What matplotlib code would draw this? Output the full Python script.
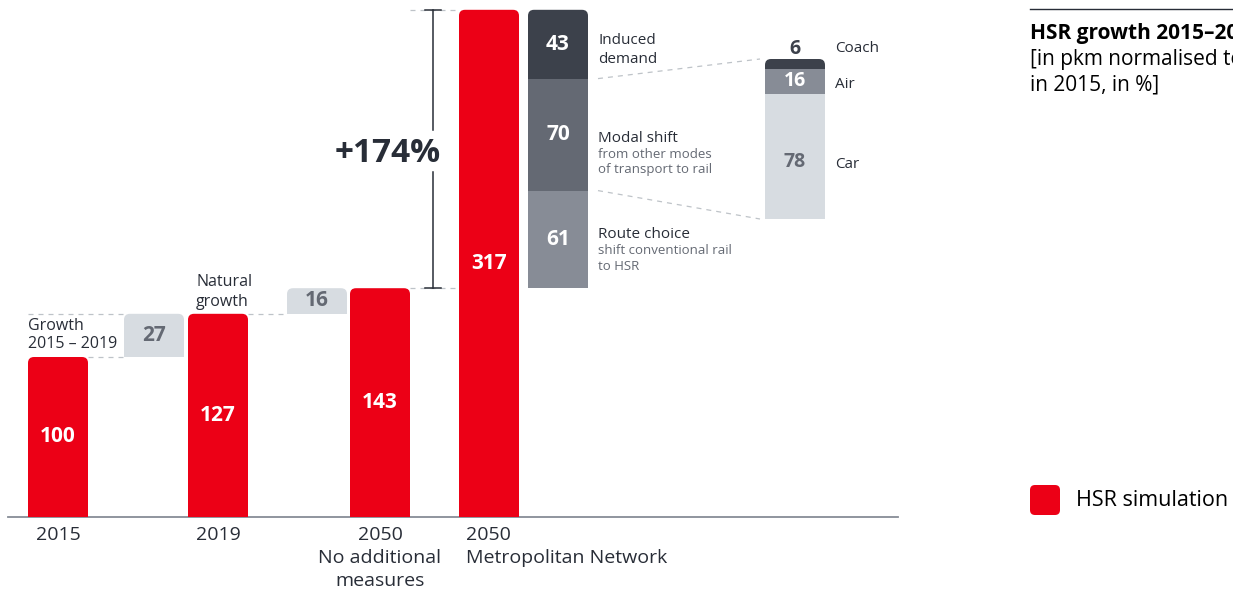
import matplotlib
matplotlib.use("Agg")
import matplotlib.pyplot as plt
from matplotlib.patches import FancyBboxPatch, Rectangle

# data
categories = ["2015", "2019", "2050\nNo additional\nmeasures", "2050\nMetropolitan Network"]
hsr_values = [100, 127, 143, 317]
growth_steps = [27, 16]
growth_labels = ["Growth\n2015 – 2019", "Natural\ngrowth"]
component_values = [61, 70, 43]
component_titles = ["Route choice", "Modal shift", "Induced\ndemand"]
component_subs = ["shift conventional rail\nto HSR", "from other modes\nof transport to rail", ""]
modes = ["Car", "Air", "Coach"]
mode_shares = [78, 16, 6]

RED = "#EC0016"
DARK = "#3C414B"
MID = "#646973"
GREY = "#878C96"
LIGHT = "#D7DCE1"
TXT = "#282D37"

plt.rcParams['font.family'] = ['Open Sans', 'DejaVu Sans']

W, H = 1233, 591
SCALE = 1.6          # pixels per unit
BASE = 517           # baseline pixel row


def py(p):
    # pixel row -> data value
    return (BASE - p) / SCALE


fig = plt.figure(figsize=(W / 100, H / 100), dpi=100)
ax = fig.add_axes([0, 0, 1, 1])
ax.set_xlim(0, W)
ax.set_ylim(py(H), py(0))
ax.axis('off')


def rbar(x0, bottom, height, width, color, rounded=True):
    if rounded:
        p = FancyBboxPatch((x0, bottom - 10), width, height + 10,
                           boxstyle="round,pad=0,rounding_size=6",
                           mutation_aspect=1 / SCALE, fc=color, ec='none', zorder=2)
        ax.add_patch(p)
        clip = Rectangle((x0 - 1, bottom), width + 2, height + 5, transform=ax.transData)
        p.set_clip_path(clip)
    else:
        ax.add_patch(Rectangle((x0, bottom), width, height, fc=color, ec='none', zorder=2))


bw = 60
bar_x = [28, 188, 350, 459]
label_x = [58, 218, 380, 466]
label_ha = ['center', 'center', 'center', 'left']

# red bars
for x0, v in zip(bar_x, hsr_values):
    rbar(x0, 0, v, bw, RED)
    ax.text(x0 + bw / 2, v / 2, str(v), color='white', fontsize=15, fontweight='bold',
            ha='center', va='center', zorder=3)

for lx, ha, lab in zip(label_x, label_ha, categories):
    ax.text(lx, py(526), lab, fontsize=14, ha=ha, va='top', color=TXT, linespacing=1.35)

# baseline
ax.plot([8, 898], [0, 0], color=GREY, lw=1.3, zorder=1)

# growth steps
dash = dict(color='#BEC3C8', lw=0.9, ls=(0, (4, 4)), zorder=1)
step_x = [124, 287]
for i, (sx, g) in enumerate(zip(step_x, growth_steps)):
    b = hsr_values[i]
    rbar(sx, b, g, bw, LIGHT)
    ax.text(sx + bw / 2, b + g / 2, str(g), color=MID, fontsize=15, fontweight='bold',
            ha='center', va='center', zorder=3)
ax.plot([88, 124], [hsr_values[0]] * 2, **dash)
ax.plot([28, 124], [hsr_values[1]] * 2, **dash)
ax.plot([248, 287], [hsr_values[1]] * 2, **dash)
ax.text(28, py(335), growth_labels[0], fontsize=11.5, color=TXT, ha='left', va='center',
        linespacing=1.25)
ax.text(196, py(292), growth_labels[1], fontsize=11.5, color=TXT, ha='left', va='center',
        linespacing=1.25)

# decomposition of the metropolitan network growth
seg_colors = [GREY, MID, DARK]
sx = 528
b = hsr_values[2]
seg_bounds = []
for i, (v, c) in enumerate(zip(component_values, seg_colors)):
    rbar(sx, b, v, bw, c, rounded=(i == len(component_values) - 1))
    ax.text(sx + bw / 2, b + v / 2, str(v), color='white', fontsize=15, fontweight='bold',
            ha='center', va='center', zorder=3)
    seg_bounds.append((b, b + v))
    b += v

title_rows = [234, 138, 50]
for (lo, hi), t, s, r in zip(seg_bounds, component_titles, component_subs, title_rows):
    ax.text(598, py(r), t, fontsize=11, color=TXT, ha='left', va='center', linespacing=1.3)
    if s:
        ax.text(598, py(r + 10), s, fontsize=9.5, color=MID, ha='left', va='top',
                linespacing=1.25)

# +174% bracket
total = hsr_values[3] - hsr_values[2]
lo, hi = hsr_values[2], hsr_values[3]
ax.plot([410, 459], [hi, hi], **dash)
ax.plot([410, 459], [lo, lo], **dash)
ax.plot([433, 433], [hi, py(130)], color=TXT, lw=1.1)
ax.plot([433, 433], [py(172), lo], color=TXT, lw=1.1)
ax.plot([425, 441], [hi, hi], color=TXT, lw=1.1)
ax.plot([425, 441], [lo, lo], color=TXT, lw=1.1)
ax.text(388, py(154), f"+{total}%", fontsize=24, fontweight='bold', color=TXT,
        ha='center', va='center')

# modal split of the shift
mx = 765
mb = py(219)
mode_colors = [LIGHT, GREY, DARK]
mode_txt = [MID, 'white', DARK]
label_rows = [164, 85, 49]
b = mb
for i, (m, v, c, tc, r) in enumerate(zip(modes, mode_shares, mode_colors, mode_txt, label_rows)):
    rbar(mx, b, v, bw, c, rounded=(i == len(modes) - 1))
    if i == 0:
        ty = py(162)
    elif i == len(modes) - 1:
        ty = py(49)
    else:
        ty = b + v / 2
    ax.text(mx + bw / 2, ty, str(v), color=tc, fontsize=14, fontweight='bold',
            ha='center', va='center', zorder=3)
    ax.text(835, py(r), m, fontsize=11, color=TXT, ha='left', va='center')
    b += v
modal_lo, modal_hi = seg_bounds[1]
ax.plot([598, 760], [modal_hi, b], **dash)
ax.plot([598, 760], [modal_lo, mb], **dash)

# title block (cut at the right edge, as in the source)
ax.plot([1030, W], [py(9), py(9)], color=TXT, lw=1)
ax.text(1030, py(33), "HSR growth 2015–2050", fontsize=15, fontweight='bold', color='black',
        ha='left', va='center')
ax.text(1030, py(59), "[in pkm normalised to 100", fontsize=15, color='black',
        ha='left', va='center')
ax.text(1030, py(85), "in 2015, in %]", fontsize=15, color='black',
        ha='left', va='center')

# legend
leg = FancyBboxPatch((1030, py(515)), 30, 30 / SCALE, boxstyle="round,pad=0,rounding_size=5",
                     mutation_aspect=1 / SCALE, fc=RED, ec='none')
ax.add_patch(leg)
ax.text(1076, py(501), "HSR simulation", fontsize=15.5, color='black', ha='left', va='center')

fig.savefig("out.png", dpi=100)
